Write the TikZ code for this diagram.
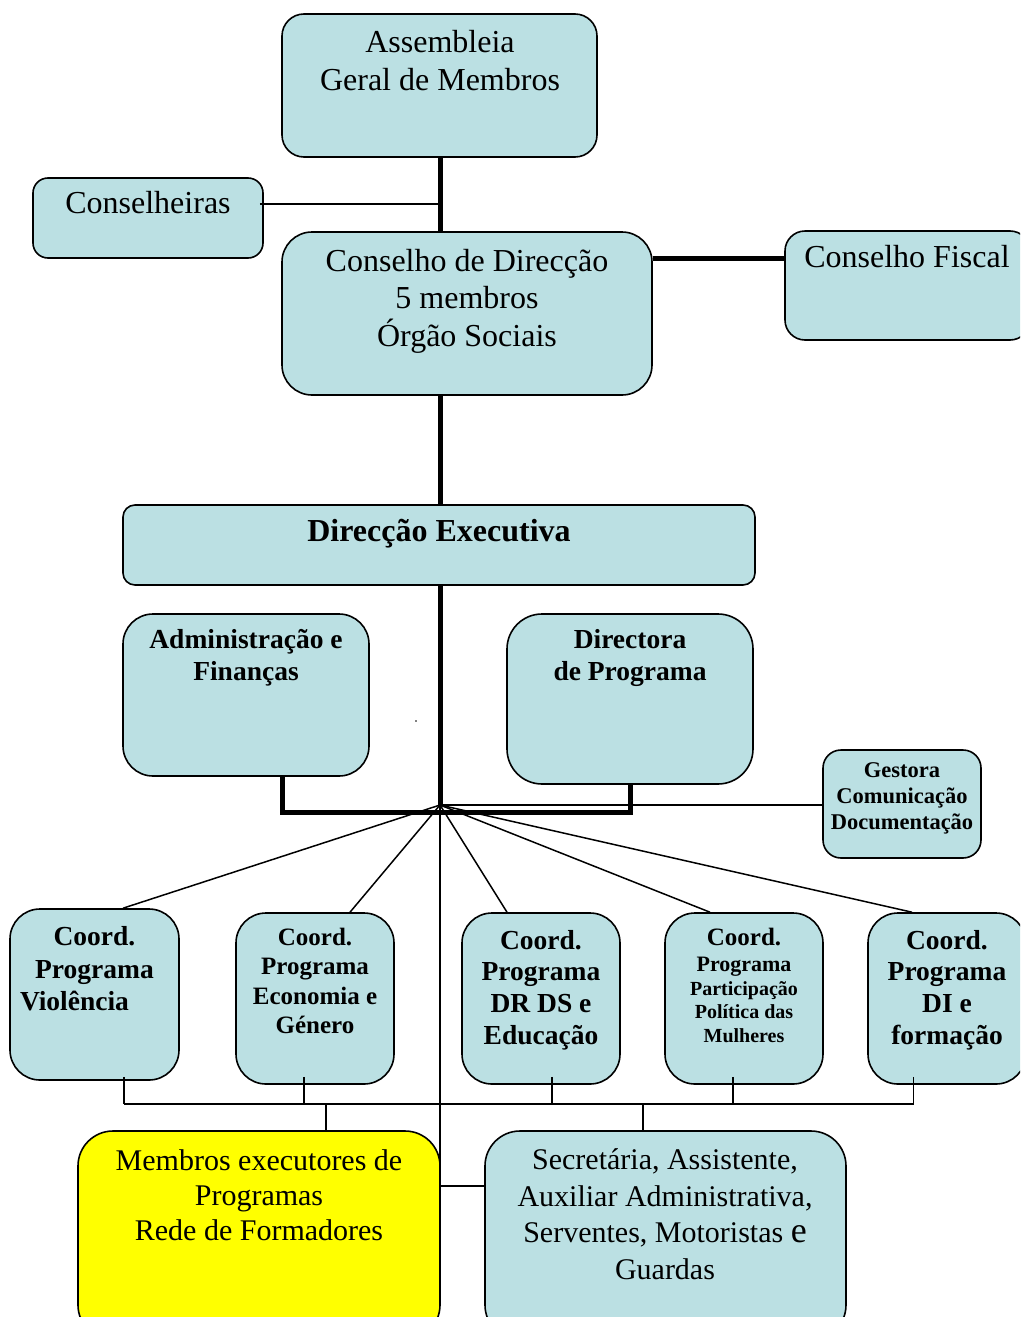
\documentclass[tikz,border=0pt]{standalone}
\usepackage{fontspec}
\setmainfont{Liberation Serif}
\definecolor{boxblue}{RGB}{187,224,227}
\definecolor{boxyellow}{RGB}{255,255,0}
\begin{document}
\begin{tikzpicture}[x=1pt,y=-1pt,
  box/.style={draw=black, line width=1.6pt, fill=boxblue, inner sep=0pt, rounded corners=#1},
  box/.default=22pt,
  lbl/.style={inner sep=0pt, align=center},
  thickconn/.style={line width=5pt, line join=miter},
  thinconn/.style={line width=1.5pt}]
\useasboundingbox (0,0) rectangle (1020,1317);
\clip (0,0) rectangle (1020,1317);
\fill[white] (0,0) rectangle (1020,1317);

\coordinate (hub) at (440,805);
\coordinate (j1) at (440,204);
\coordinate (fy) at (0,258);
\coordinate (bk) at (0,812);
\coordinate (bus) at (0,1104);
\coordinate (vb) at (440,1186);

% ---------- boxes ----------
\node[box=22pt, minimum width=315, minimum height=143] (asm) at (439.5,85.5) {};
\node[box=15pt, minimum width=230, minimum height=80] (cons) at (148,218) {};
\node[box=30pt, minimum width=370, minimum height=163] (cd) at (467,313.5) {};
\node[box=20pt, minimum width=245, minimum height=109] (cf) at (907.5,285.5) {};
\node[box=12pt, minimum width=632, minimum height=80] (de) at (439,545) {};
\node[box=30pt, minimum width=246, minimum height=162] (adm) at (246,695) {};
\node[box=35pt, minimum width=246, minimum height=170] (dirp) at (630,699) {};
\node[box=18pt, minimum width=158, minimum height=108] (gest) at (902,804) {};
\node[box=30pt, minimum width=169, minimum height=171] (c1) at (94.5,994.5) {};
\node[box=30pt, minimum width=158, minimum height=171] (c2) at (315,998.5) {};
\node[box=30pt, minimum width=158, minimum height=171] (c3) at (541,998.5) {};
\node[box=30pt, minimum width=158, minimum height=171] (c4) at (744,998.5) {};
\node[box=30pt, minimum width=158, minimum height=171] (c5) at (947,998.5) {};
\node[box=35pt, fill=boxyellow, minimum width=362, minimum height=209] (memb) at (259,1235.5) {};
\node[box=35pt, minimum width=361, minimum height=209] (sec) at (665.5,1235.5) {};

% ---------- connectors ----------
\draw[thickconn] (asm.south -| j1) -- (j1 |- cd.north);
\draw[thinconn] ([xshift=-4pt]cons.east |- j1) -- (j1);
\draw[thickconn] (cd.east |- fy) -- (cf.west |- fy);
\draw[thickconn] (hub |- cd.south) -- (hub |- de.north);
\draw[thickconn] (hub |- de.south) -- (hub);
\draw[thickconn] ([xshift=36pt]adm.south) -- ([xshift=36pt]adm.south |- bk) -- (dirp.south |- bk) -- (dirp.south);
\draw[thinconn] (hub) -- (hub -| gest.west);
\draw[thinconn] (hub) -- ([xshift=28.5pt]c1.north);
\draw[thinconn] (hub) -- ([xshift=35pt]c2.north);
\draw[thinconn] (hub) -- ([xshift=-34pt]c3.north);
\draw[thinconn] (hub) -- ([xshift=-34pt]c4.north);
\draw[thinconn] (hub) -- ([xshift=-35pt]c5.north);
\draw[thinconn] (hub) -- (vb) -- (vb -| sec.west);

\coordinate (d1) at ([xshift=29.5pt,yshift=4pt]c1.south);
\coordinate (d2) at ([xshift=-11pt,yshift=8pt]c2.south);
\coordinate (d3) at ([xshift=11pt,yshift=8pt]c3.south);
\coordinate (d4) at ([xshift=-11pt,yshift=8pt]c4.south);
\coordinate (d5) at ([xshift=-33.5pt,yshift=8pt]c5.south);
\foreach \d in {d1,d2,d3,d4,d5} \draw[thinconn] (\d) -- (\d |- bus);
\draw[thinconn] (d1 |- bus) -- (d5 |- bus);
\draw[thinconn] ([xshift=67pt]memb.north |- bus) -- ([xshift=67pt]memb.north);
\draw[thinconn] ([xshift=-22.5pt]sec.north |- bus) -- ([xshift=-22.5pt]sec.north);

\fill (416,721) circle (0.9pt);

% ---------- labels ----------
\node[lbl, font=\fontsize{32}{38}\selectfont] (tasm) at (440,61) {Assembleia\\Geral de Membros};
\node[lbl, font=\fontsize{32}{38}\selectfont] (tcons) at (148,203) {Conselheiras};
\node[lbl, font=\fontsize{32}{37.5}\selectfont] (tcd) at (467,301) {Conselho de Direcção\\5 membros\\Órgão Sociais};
\node[lbl, font=\fontsize{32}{38}\selectfont] (tcf) at (907,257) {Conselho Fiscal};
\node[lbl, font=\fontsize{32}{38}\selectfont\bfseries] (tde) at (439,534) {Direcção Executiva};
\node[lbl, font=\fontsize{27.5}{32}\selectfont\bfseries] (tadm) at (246,658) {Administração e\\Finanças};
\node[lbl, font=\fontsize{27.5}{32}\selectfont\bfseries] (tdirp) at (630,658) {Directora\\de Programa};
\node[lbl, font=\fontsize{22.5}{26}\selectfont\bfseries] (tgest) at (902,798) {Gestora\\Comunicação\\Documentação};
\node[lbl, font=\fontsize{27.5}{32.5}\selectfont\bfseries] (tc1) at (94.5,969) {Coord.\\Programa\\Violência\hspace*{40pt}};
\node[lbl, font=\fontsize{25}{29.5}\selectfont\bfseries] (tc2) at (315,981) {Coord.\\Programa\\Economia e\\Género};
\node[lbl, font=\fontsize{27.5}{31.7}\selectfont\bfseries] (tc3) at (541,990) {Coord.\\Programa\\DR DS e\\Educação};
\node[lbl, font=\fontsize{20}{23.5}\selectfont\bfseries] (tc4) at (744,985) {{\fontsize{25}{29}\selectfont Coord.}\\[3pt]{\fontsize{22}{25}\selectfont Programa}\\Participação\\Política das\\Mulheres};
\node[lbl, font=\fontsize{27.5}{31.7}\selectfont\bfseries] (tc5) at (947,990) {Coord.\\Programa\\DI e\\formação};
\node[lbl, font=\fontsize{30}{35}\selectfont] (tmemb) at (259,1195) {Membros executores de\\Programas\\Rede de Formadores};
\node[lbl, font=\fontsize{30}{36.5}\selectfont] (tsec) at (665,1214) {Secretária, Assistente,\\Auxiliar Administrativa,\\Serventes, Motoristas {\fontsize{36}{36}\selectfont e}\\Guardas};
\end{tikzpicture}
\end{document}
